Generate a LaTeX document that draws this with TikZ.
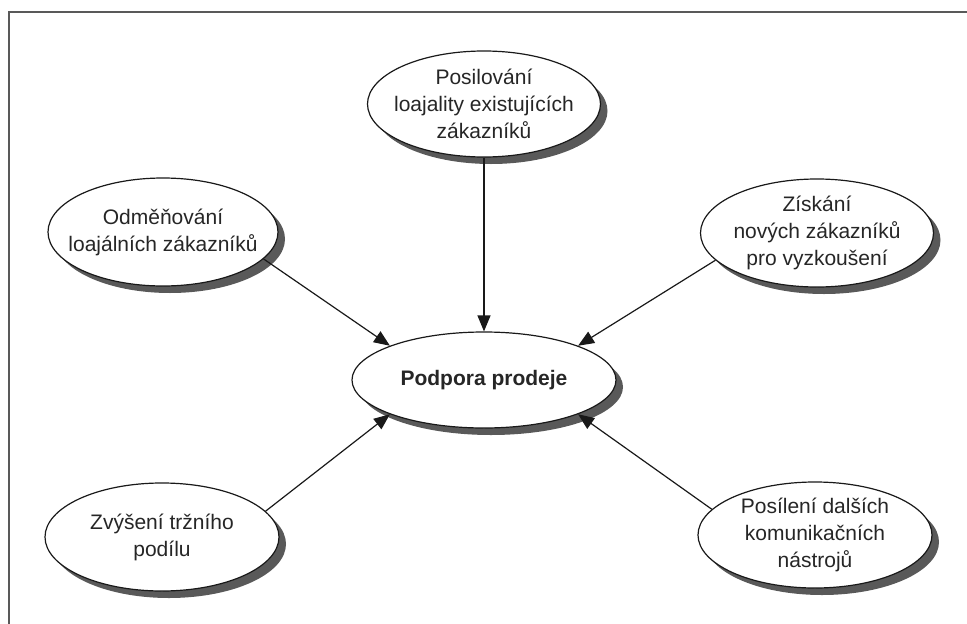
\documentclass[tikz,border=0pt]{standalone}
\usepackage{fontspec}
\setmainfont{Liberation Sans}
\usetikzlibrary{arrows.meta,shapes.geometric,shadows}

\begin{document}
\begin{tikzpicture}[x=1pt,y=-1pt]
		\tikzstyle{goal}=[ellipse,draw=black!90,line width=1.2pt,fill=white,align=center,inner xsep=-30pt,inner ysep=-10pt,minimum width=232pt,minimum height=108pt,font=\fontsize{21}{27}\selectfont,text=black!85,drop shadow={shadow xshift=7pt,shadow yshift=-7pt,fill=black!65,opacity=1}]
		\tikzstyle{main}=[goal,minimum width=264pt,minimum height=96pt,font=\fontsize{21}{27}\selectfont\bfseries]
		\tikzstyle{feed}=[line width=1.2pt,draw=black!90,-{Triangle[length=16pt,width=13pt]}]
		\tikzstyle{frame}=[line width=1.6pt,draw=black!65]
		
		\useasboundingbox (0,0) rectangle (967,624);
		\draw[frame] (9,624) -- (9,12) -- (967,12);
		
		\node[main] (podpora) at (484,380) {Podpora prodeje};
		\node[goal,minimum width=233pt,minimum height=106pt] (posilovani) at (484,104) {Posilování\\loajality existujících\\zákazníků};
		\node[goal,minimum width=230pt] (odmenovani) at (163,232) {Odměňování\\loajálních zákazníků};
		\node[goal,minimum width=233pt] (ziskani) at (817,233) {Získání\\nových zákazníků\\pro vyzkoušení};
		\node[goal,minimum width=234pt] (zvyseni) at (162,537) {Zvýšení tržního\\podílu};
		\node[goal,minimum width=234pt,minimum height=106pt] (nastroje) at (815,535) {Posílení dalších\\komunikačních\\nástrojů};
		
		\draw[feed] (posilovani) -- (podpora);
		\draw[feed] (odmenovani.-15) -- (podpora.160);
		\draw[feed] (ziskani.195) -- (podpora.20);
		\draw[feed] (zvyseni.14) -- (podpora.-160);
		\draw[feed] (nastroje.166) -- (podpora.-20);
\end{tikzpicture}
\end{document}
